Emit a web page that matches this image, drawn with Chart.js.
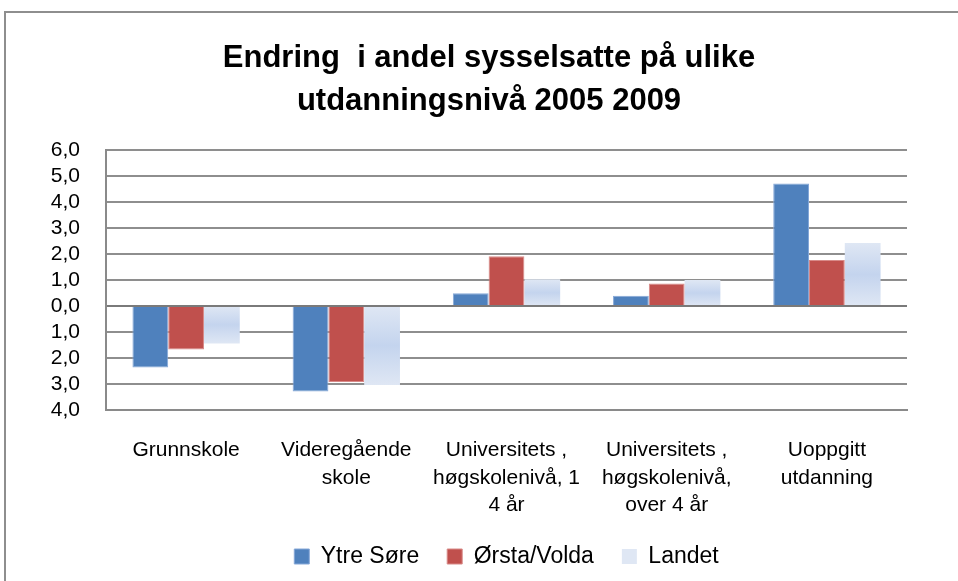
<!DOCTYPE html>
<html>
<head>
<meta charset="utf-8">
<script src="https://cdn.jsdelivr.net/npm/chart.js@4.4.0/dist/chart.umd.min.js"></script>
<style>
  html, body { margin: 0; padding: 0; background: #ffffff; }
  #wrap { position: relative; width: 958px; height: 581px; overflow: hidden; }
  #frame { position: absolute; left: 4px; top: 11px; width: 1000px; height: 1000px;
           border: 2px solid #8e8e8e; box-sizing: border-box; }
  canvas { position: absolute; left: 0; top: 0; }
</style>
</head>
<body>
<div id="wrap">
  <div id="frame"></div>
  <canvas id="c" width="958" height="581"></canvas>
</div>
<script>
const titleLines = ["Endring  i andel sysselsatte på ulike", "utdanningsnivå 2005 2009"];
const categories = [
  "Grunnskole",
  ["Videregående", "skole"],
  ["Universitets ,", "høgskolenivå, 1", "4 år"],
  ["Universitets ,", "høgskolenivå,", "over 4 år"],
  ["Uoppgitt", "utdanning"]
];
const seriesNames = ["Ytre Søre", "Ørsta/Volda", "Landet"];
const ytreSore   = [-2.36, -3.29, 0.49, 0.40, 4.72];
const orstaVolda = [-1.67, -2.92, 1.92, 0.87, 1.77];
const landet     = [-1.44, -3.04, 1.03, 1.00, 2.43];
const yTickValues = [6, 5, 4, 3, 2, 1, 0, -1, -2, -3, -4];
const yTickLabels = ["6,0", "5,0", "4,0", "3,0", "2,0", "1,0", "0,0", "1,0", "2,0", "3,0", "4,0"];

const FONT = "'Liberation Sans', Arial, sans-serif";

function landetFill(ctx) {
  const chart = ctx.chart;
  if (!chart.chartArea || ctx.type !== 'data') return '#d3def1';
  const y = chart.scales.y;
  const v = ctx.raw;
  const top = y.getPixelForValue(Math.max(v, 0));
  const bot = y.getPixelForValue(Math.min(v, 0));
  const g = chart.ctx.createLinearGradient(0, top, 0, bot);
  g.addColorStop(0, '#dfe7f4');
  g.addColorStop(0.5, '#c4d4ee');
  g.addColorStop(1, '#dfe7f4');
  return g;
}

new Chart(document.getElementById('c'), {
  type: 'bar',
  data: {
    labels: categories,
    datasets: [
      { label: seriesNames[0], data: ytreSore, backgroundColor: '#4f81bd', borderColor: '#86a8d8', borderWidth: 1 },
      { label: seriesNames[1], data: orstaVolda, backgroundColor: '#c0504d', borderColor: '#d88a88', borderWidth: 1 },
      { label: seriesNames[2], data: landet, backgroundColor: landetFill, borderWidth: 0 }
    ]
  },
  options: {
    responsive: false,
    animation: false,
    devicePixelRatio: 1,
    layout: { padding: { left: 30, right: 10, top: 6, bottom: 3 } },
    datasets: { bar: { categoryPercentage: 0.67, barPercentage: 1.0 } },
    plugins: {
      title: {
        display: true,
        text: titleLines,
        color: '#000000',
        font: { family: FONT, size: 31, weight: 'bold', lineHeight: 1.39 },
        padding: { top: 31, bottom: 27 }
      },
      legend: {
        display: true,
        position: 'bottom',
        fullSize: false,
        labels: {
          color: '#000000',
          font: { family: FONT, size: 23 },
          boxWidth: 15,
          boxHeight: 15,
          padding: 28
        }
      },
      tooltip: { enabled: false }
    },
    scales: {
      x: {
        grid: { display: false, drawTicks: false },
        border: { display: true, color: '#8a8a8a', width: 2 },
        ticks: {
          color: '#000000',
          font: { family: FONT, size: 21, lineHeight: 1.3 },
          padding: 27,
          maxRotation: 0,
          autoSkip: false
        },
        afterFit(scale) { scale.height = 107; }
      },
      y: {
        min: -4,
        max: 6,
        afterBuildTicks(scale) { scale.ticks = yTickValues.map(v => ({ value: v })); },
        grid: {
          drawTicks: false,
          color: (c) => (c.tick && c.tick.value === 0) ? '#7a7a7a' : '#8e8e8e',
          lineWidth: 2
        },
        border: { display: true, color: '#8a8a8a', width: 2 },
        ticks: {
          color: '#000000',
          font: { family: FONT, size: 21 },
          padding: 26,
          autoSkip: false,
          callback(value) {
            const i = yTickValues.indexOf(value);
            return i >= 0 ? yTickLabels[i] : '';
          }
        },
        afterFit(scale) { scale.width = 76; }
      },
      yPad: {
        type: 'linear',
        axis: 'y',
        position: 'right',
        display: true,
        grid: { display: false, drawTicks: false },
        border: { display: false },
        ticks: { display: false },
        afterFit(scale) { scale.width = 41; }
      }
    }
  }
});
</script>
</body>
</html>
